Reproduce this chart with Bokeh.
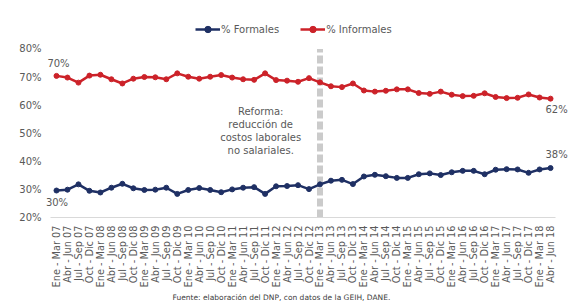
from bokeh.plotting import figure
from bokeh.models import (ColumnDataSource, Range1d, FixedTicker, Title,
                          PrintfTickFormatter, Label, Legend, LegendItem)
from bokeh.core.properties import value
from bokeh.embed import file_html
from bokeh.resources import INLINE
import math

quarters = ["Ene - Mar", "Abr - Jun", "Jul - Sep", "Oct - Dic"]
years = ["07", "08", "09", "10", "11", "12", "13", "14", "15", "16", "17", "18"]
periods = [f"{q} {y}" for y in years for q in quarters][:46]

formales = [29.6, 29.9, 31.8, 29.5, 28.9, 30.6, 32.0, 30.4, 29.8, 29.9, 30.6, 28.4,
            29.8, 30.5, 29.8, 29.0, 30.0, 30.6, 30.8, 28.4, 31.1, 31.2, 31.5, 30.1,
            31.8, 33.1, 33.4, 31.9, 34.6, 35.2, 34.7, 34.1, 34.1, 35.4, 35.7, 35.1,
            36.1, 36.6, 36.6, 35.4, 37.0, 37.2, 37.1, 35.9, 37.1, 37.6]
informales = [70.4, 69.8, 68.0, 70.5, 70.8, 69.2, 67.7, 69.4, 70.0, 69.9, 69.2, 71.3,
              70.1, 69.4, 70.1, 70.7, 69.8, 69.2, 69.0, 71.3, 68.9, 68.7, 68.3, 69.6,
              68.1, 66.7, 66.4, 67.7, 65.2, 64.8, 65.1, 65.6, 65.6, 64.3, 64.0, 64.8,
              63.7, 63.2, 63.3, 64.2, 62.9, 62.5, 62.6, 63.8, 62.7, 62.3]
y_ticks = [20, 30, 40, 50, 60, 70, 80]
reform_period = "Ene - Mar 13"

FONT = "DejaVu Sans"
GRAY = "#595959"
BLUE = "#1f3064"
RED = "#cc2229"

xs = list(range(len(periods)))
src = ColumnDataSource(dict(x=xs, f=formales, i=informales))

p = figure(width=580, height=302, x_range=Range1d(-1.184, 47.0),
           y_range=Range1d(20, 93.67), output_backend="svg", toolbar_location=None,
           min_border_left=43, min_border_right=8, min_border_top=10, min_border_bottom=85)
p.outline_line_color = None
p.xgrid.grid_line_color = None
p.ygrid.grid_line_color = None

# reform line (from bottom to top of the value axis)
rx = periods.index(reform_period)
p.segment(x0=[rx], y0=[y_ticks[0]], x1=[rx], y1=[y_ticks[-1]],
          line_color="#cbcbcb", line_width=6, line_dash="8 3")

lf = p.line("x", "f", source=src, line_color=BLUE, line_width=2.5)
cf = p.scatter("x", "f", source=src, size=5, color=BLUE)
li = p.line("x", "i", source=src, line_color=RED, line_width=2.5)
ci = p.scatter("x", "i", source=src, size=5, color=RED)

# axes
for ax in (p.xaxis, p.yaxis):
    ax.major_tick_out = 0
    ax.major_tick_in = 0
    ax.minor_tick_out = 0
    ax.minor_tick_in = 0
    ax.major_tick_line_color = None
    ax.minor_tick_line_color = None

p.yaxis.ticker = FixedTicker(ticks=y_ticks)
p.yaxis.formatter = PrintfTickFormatter(format="%d%%")
p.yaxis.axis_line_color = None
p.yaxis.major_label_text_font = FONT
p.yaxis.major_label_text_font_size = "10px"
p.yaxis.major_label_text_color = GRAY
p.yaxis.major_label_standoff = 2

p.xaxis.ticker = FixedTicker(ticks=xs)
p.xaxis.major_label_overrides = {i: lab for i, lab in zip(xs, periods)}
p.xaxis.bounds = (-0.55, len(periods) - 0.55)
p.xaxis.axis_line_color = "#d9d9d9"
p.xaxis.axis_line_width = 1
p.xaxis.major_label_orientation = math.pi / 2
p.xaxis.major_label_text_font = FONT
p.xaxis.major_label_text_font_size = "9.75px"
p.xaxis.major_label_text_color = GRAY
p.xaxis.major_label_standoff = 8

# end labels
def end_label(x, y, xo, yo):
    p.text(x=[x], y=[y], text=[f"{round(y)}%"],
           text_font=value(FONT), text_font_size="10px", text_color=GRAY,
           text_align="center", text_baseline="middle", x_offset=xo, y_offset=yo)

end_label(xs[0], informales[0], 2, -12.5)
end_label(xs[0], formales[0], 0.5, 12)
end_label(xs[-1], informales[-1], 6, 11)
end_label(xs[-1], formales[-1], 6, -13.5)

p.add_layout(Label(x=18.6, y=59.7, text="Reforma:\nreducción de\ncostos laborales\nno salariales.",
                   text_font=FONT, text_font_size="10px", text_color=GRAY,
                   text_align="center", text_baseline="top", text_line_height=1.17))

p.add_layout(Title(text="Fuente: elaboración del DNP, con datos de la GEIH, DANE.",
                   align="left", offset=129, text_font=FONT, text_font_size="7.5px",
                   text_font_style="normal", text_color="#404040", standoff=0), "below")

legend = Legend(items=[LegendItem(label="% Formales", renderers=[lf, cf]),
                       LegendItem(label="% Informales", renderers=[li, ci])],
                location=(152, 180), orientation="horizontal", padding=0, margin=0,
                spacing=21, glyph_width=25, glyph_height=16, label_standoff=1,
                label_text_font=FONT, label_text_font_size="10px", label_text_color=GRAY,
                background_fill_alpha=0, border_line_color=None)
p.add_layout(legend, "center")

open("out.html", "w").write(file_html(p, INLINE))
